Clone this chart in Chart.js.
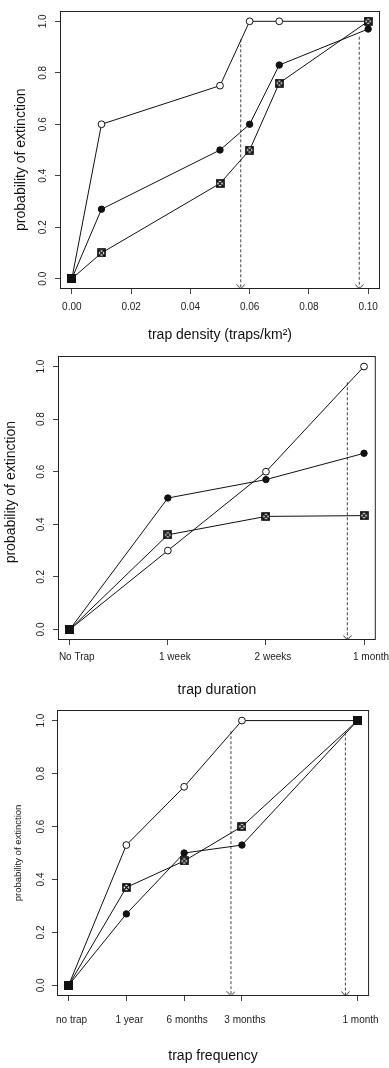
<!DOCTYPE html>
<html>
<head>
<meta charset="utf-8">
<script src="https://cdn.jsdelivr.net/npm/chart.js@4.4.1/dist/chart.umd.min.js"></script>
<style>
  body { margin: 0; background: #fff; width: 389px; height: 1068px; position: relative; overflow: hidden; }
  canvas { position: absolute; left: 0; }
</style>
</head>
<body>
<canvas id="density" width="389" height="345" style="top:0px"></canvas>
<canvas id="duration" width="389" height="355" style="top:345px"></canvas>
<canvas id="frequency" width="389" height="368" style="top:700px"></canvas>
<script>
// panel 1 - trap density
var densityX = [0, 0.01, 0.05, 0.06, 0.07, 0.10];
var densityOpen = [0, 0.60, 0.75, 1.00, 1.00, 1.00];
var densityFilled = [0, 0.27, 0.50, 0.60, 0.83, 0.97];
var densityCrossed = [0, 0.10, 0.37, 0.50, 0.76, 1.00];
var densityArrowX = [0.057, 0.097];
var densityArrowTop = [0.93, 0.94];

// panel 2 - trap duration
var durationX = [0, 1, 2, 3];
var durationLabels = ['No Trap', '1 week', '2 weeks', '1 month'];
var durationOpen = [0, 0.30, 0.60, 1.00];
var durationFilled = [0, 0.50, 0.57, 0.67];
var durationCrossed = [0, 0.36, 0.43, 0.433];
var durationArrowX = [2.83];
var durationArrowTop = [0.94];

// panel 3 - trap frequency
var freqX = [0, 1, 2, 3, 5];
var freqLabels = ['no trap', '1 year', '6 months', '3 months', '1 month'];
var freqOpen = [0, 0.53, 0.75, 1.00, 1.00];
var freqFilled = [0, 0.27, 0.50, 0.53, 1.00];
var freqCrossed = [0, 0.37, 0.47, 0.60, 1.00];
var freqArrowX = [2.81, 4.79];
var freqArrowTop = [0.96, 0.955];

var yMin = -0.04, yMax = 1.04;
var FONT = "'Liberation Sans', Arial, Helvetica, sans-serif";

function markerCanvas(w, h, draw) {
    var c = document.createElement('canvas');
    c.width = w; c.height = h;
    draw(c.getContext('2d'));
    return c;
}

var crossSq = markerCanvas(9, 9, function(g) {
    g.fillStyle = '#fff';
    g.fillRect(1, 1, 7, 7);
    g.strokeStyle = '#000';
    g.lineWidth = 1.6;
    g.strokeRect(1, 1, 7, 7);
    g.lineWidth = 1.2;
    g.beginPath();
    g.moveTo(1.5, 1.5); g.lineTo(7.5, 7.5);
    g.moveTo(7.5, 1.5); g.lineTo(1.5, 7.5);
    g.stroke();
});
var solidSq = markerCanvas(9, 9, function(g) {
    g.fillStyle = '#111';
    g.fillRect(0, 0, 9, 9);
});
var arrowHead = markerCanvas(9, 10, function(g) {
    g.strokeStyle = '#333';
    g.lineWidth = 1;
    g.beginPath();
    g.moveTo(0.5, 0.5); g.lineTo(4.5, 5); g.lineTo(8.5, 0.5);
    g.stroke();
});

// box round the plot region, like R's bty="o"
var boxPlugin = {
    id: 'box',
    afterDraw: function(chart) {
        var a = chart.chartArea, g = chart.ctx;
        g.save();
        g.strokeStyle = '#222';
        g.lineWidth = 1;
        g.strokeRect(a.left + 0.5, a.top + 0.5, a.right - a.left - 1, a.bottom - a.top - 1);
        g.restore();
    }
};

function plot(id, o) {
    var pts = function(ys) { return o.x.map(function(v, i) { return {x: v, y: ys[i]}; }); };
    var allSame = function(i) { return o.open[i] === o.filled[i] && o.filled[i] === o.crossed[i]; };
    var line = {borderColor: '#111', borderWidth: 1, tension: 0, showLine: true};
    var datasets = [
        Object.assign({data: pts(o.crossed), pointRadius: 4,
            pointStyle: function(c) { return allSame(c.dataIndex) ? solidSq : crossSq; }}, line),
        Object.assign({data: pts(o.filled), pointStyle: 'circle', pointRadius: 3.2,
            pointBackgroundColor: '#111', pointBorderColor: '#111', pointBorderWidth: 1}, line),
        Object.assign({data: pts(o.open), pointStyle: 'circle', pointRadius: 3.4,
            pointBackgroundColor: '#fff', pointBorderColor: '#111', pointBorderWidth: 1}, line)
    ];
    o.arrowX.forEach(function(ax, i) {
        datasets.push({
            data: [{x: ax, y: o.arrowTop[i]}, {x: ax, y: yMin}],
            borderColor: '#444', borderWidth: 1, borderDash: [3, 2], showLine: true,
            pointRadius: [0, 4], pointStyle: arrowHead, clip: false
        });
    });

    var xScale = {
        type: 'linear', min: o.xMin, max: o.xMax,
        ticks: {stepSize: o.xStep, includeBounds: false, autoSkip: false, maxRotation: 0,
            callback: o.xFormat, font: {family: FONT, size: 10}, color: '#222',
            padding: o.xTickPad, labelOffset: o.labelOffset || 0},
        grid: {drawOnChartArea: false, drawTicks: true, tickLength: 5, color: '#444', tickColor: '#444'},
        border: {display: false},
        title: {display: true, text: o.xTitle, font: {family: FONT, size: 14}, color: '#111',
            padding: {top: 0, bottom: o.xTitlePad}},
        afterFit: function(s) { s.height = o.xH; }
    };
    if (o.xTicks) {
        xScale.afterBuildTicks = function(s) {
            s.ticks = o.xTicks.map(function(v) { return {value: v}; });
        };
    }

    return new Chart(document.getElementById(id), {
        type: 'line',
        data: {datasets: datasets},
        options: {
            responsive: false,
            animation: false,
            events: [],
            layout: {autoPadding: false, padding: o.pad},
            plugins: {legend: {display: false}, tooltip: {enabled: false}},
            scales: {
                x: xScale,
                y: {
                    type: 'linear', min: yMin, max: yMax,
                    ticks: {stepSize: 0.2, includeBounds: false, minRotation: 90, maxRotation: 90,
                        crossAlign: 'center', padding: o.yTickPad,
                        callback: function(v) { return v.toFixed(1); },
                        font: {family: FONT, size: 10}, color: '#222'},
                    grid: {drawOnChartArea: false, drawTicks: true, tickLength: 5, color: '#444', tickColor: '#444'},
                    border: {display: false},
                    title: {display: true, text: o.yTitle, font: {family: FONT, size: o.yTitleSize}, color: '#111',
                        padding: {top: o.yTitlePad, bottom: 0}},
                    afterFit: function(s) { s.width = o.yW; }
                }
            }
        },
        plugins: [boxPlugin]
    });
}

plot('density', {
    x: densityX, open: densityOpen, filled: densityFilled, crossed: densityCrossed,
    arrowX: densityArrowX, arrowTop: densityArrowTop,
    xMin: -0.004, xMax: 0.104, xStep: 0.02,
    xFormat: function(v) { return v.toFixed(2); },
    xTitle: 'trap density (traps/km\u00B2)', yTitle: 'probability of extinction     ', yTitleSize: 14,
    pad: {left: 0, right: 9, top: 3, bottom: 0}, yW: 60, xH: 56,
    xTickPad: 7, xTitlePad: 1.6, yTitlePad: 12.6, yTickPad: 5
});

plot('duration', {
    x: durationX, open: durationOpen, filled: durationFilled, crossed: durationCrossed,
    arrowX: durationArrowX, arrowTop: durationArrowTop,
    xMin: -0.12, xMax: 3.12, xStep: 1,
    xFormat: function(v) { return durationLabels[v]; }, labelOffset: 7,
    xTitle: 'trap duration', yTitle: '   probability of extinction', yTitleSize: 14,
    pad: {left: 0, right: 11, top: 9, bottom: 0}, yW: 58, xH: 60,
    xTickPad: 6.5, xTitlePad: 1.6, yTitlePad: 3.1, yTickPad: 5
});

plot('frequency', {
    x: freqX, open: freqOpen, filled: freqFilled, crossed: freqCrossed,
    arrowX: freqArrowX, arrowTop: freqArrowTop,
    xMin: -0.2, xMax: 5.2, xStep: 1, xTicks: freqX,
    xFormat: function(v) { return freqLabels[freqX.indexOf(v)]; }, labelOffset: 3,
    xTitle: 'trap frequency', yTitle: 'probability of extinction', yTitleSize: 9.5,
    pad: {left: 0, right: 11, top: 10, bottom: 0}, yW: 57, xH: 72,
    xTickPad: 13, xTitlePad: 3.6, yTitlePad: 12.3, yTickPad: 4
});
</script>
</body>
</html>
